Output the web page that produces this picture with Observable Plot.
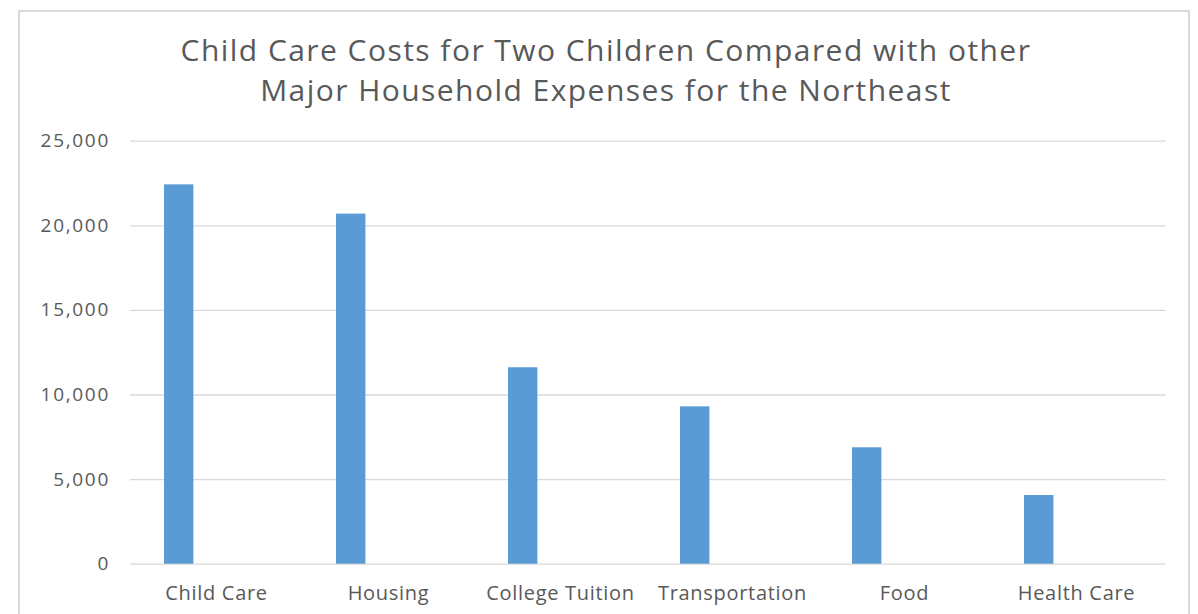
<!DOCTYPE html>
<html>
<head>
<meta charset="utf-8">
<script src="https://cdn.jsdelivr.net/npm/d3@7"></script>
<script src="https://cdn.jsdelivr.net/npm/@observablehq/plot@0.6"></script>
<style>
  html, body { margin: 0; padding: 0; background: #fff; width: 1198px; height: 614px; overflow: hidden; }
  #frame { position: absolute; left: 18px; top: 10px; width: 1172px; height: 620px; border: 2px solid #d9d9d9; box-sizing: border-box; }
  #title { position: absolute; left: 18px; top: 30px; width: 1176px; text-align: center; font-family: "Open Sans", sans-serif; font-size: 30px; line-height: 40px; color: #595959; letter-spacing: 1.45px; }
  #chart { position: absolute; left: 0; top: 120px; }
  #chart svg [aria-label="y-axis tick label"] text { letter-spacing: 1.7px; }
  #chart svg [aria-label="x-axis tick label"] text { letter-spacing: 0.7px; }
</style>
</head>
<body>
<div id="frame"></div>
<div id="title">Child Care Costs for Two Children Compared with other<br>Major Household Expenses for the Northeast</div>
<div id="chart"></div>
<script>
const categories = ["Child Care", "Housing", "College Tuition", "Transportation", "Food", "Health Care"];
const values = [22420, 20690, 11610, 9300, 6880, 4060];
const yTicks = [0, 5000, 10000, 15000, 20000, 25000];

const data = categories.map((c, i) => ({category: c, value: values[i]}));

const chart = Plot.plot({
  width: 1198,
  height: 494,
  marginLeft: 130,
  marginRight: 32.3,
  marginTop: 20.7,
  marginBottom: 50.3,
  x: {domain: categories, padding: 0, label: null},
  y: {domain: [0, 25000], label: null},
  style: {fontFamily: "Open Sans, sans-serif", fontSize: "20px", color: "#595959", background: "transparent"},
  marks: [
    Plot.gridY(yTicks, {stroke: "#d9d9d9", strokeOpacity: 1, strokeWidth: 1.3}),
    Plot.barY(data, {x: "category", y: "value", fill: "#5b9bd5", insetLeft: 32, insetRight: 110.6}),
    Plot.axisY(yTicks, {tickSize: 0, tickPadding: 20.5, tickFormat: d3.format(","), fontSize: 19, fill: "#595959"}),
    Plot.axisX({tickSize: 0, tickPadding: 22, fontSize: 20, fill: "#595959", dx: -2})
  ]
});
document.getElementById("chart").appendChild(chart);
</script>
</body>
</html>
